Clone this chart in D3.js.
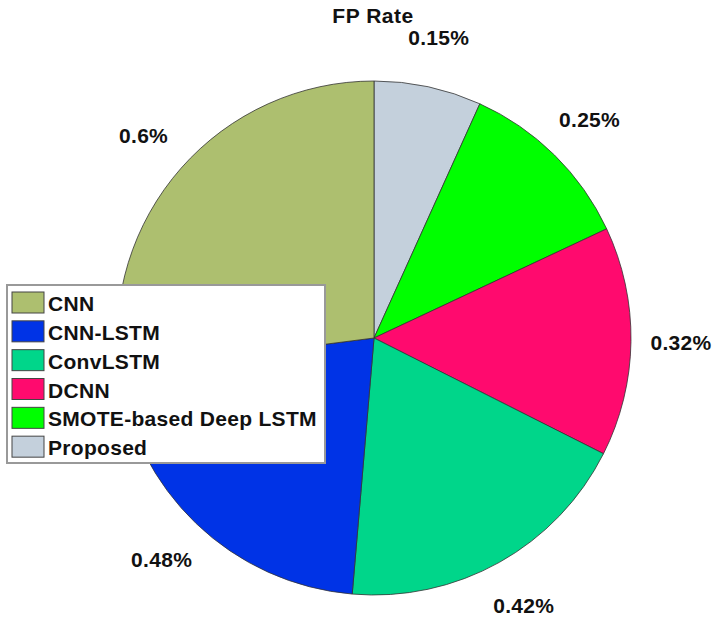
<!doctype html>
<html>
  <head>
    <script src="https://cdn.jsdelivr.net/npm/d3@7"></script>
    <style>
      body { margin: 0; background: #fff; }
      text { font-family: Arial, "Liberation Sans", sans-serif; font-weight: bold; fill: #111; }
    </style>
  </head>
  <body>
    <svg width="719" height="628"></svg>

    <script type="text/javascript">
        var models = ["CNN", "CNN-LSTM", "ConvLSTM", "DCNN", "SMOTE-based Deep LSTM", "Proposed"];
        var fpRate = [0.6, 0.48, 0.42, 0.32, 0.25, 0.15];
        var labels = ["0.6%", "0.48%", "0.42%", "0.32%", "0.25%", "0.15%"];
        var colors = ["#adbf6f", "#0033e6", "#00d68a", "#ff0a6e", "#00ff00", "#c4d0dc"];

        var svg = d3.select("svg");
        var cx = 374, cy = 338, radius = 257;

        var g = svg.append("g").attr("transform", `translate(${cx}, ${cy})`);

        // slices go clockwise from 12 o'clock: Proposed first, CNN last
        var order = d3.range(models.length).reverse();
        var pie = d3.pie()
            .sort(null)
            .value(i => fpRate[i]);

        var arc = d3.arc().innerRadius(0).outerRadius(radius);
        var labelArc = d3.arc().innerRadius(307).outerRadius(307);

        var slices = pie(order);

        g.selectAll("path")
            .data(slices)
            .enter().append("path")
            .attr("d", arc)
            .attr("fill", d => colors[d.data])
            .attr("stroke", "#333")
            .attr("stroke-width", 0.8);

        g.selectAll("text.val")
            .data(slices)
            .enter().append("text")
            .attr("class", "val")
            .attr("transform", d => `translate(${labelArc.centroid(d)})`)
            .attr("text-anchor", "middle")
            .attr("dy", "0.35em")
            .style("font-size", "21px")
            .style("letter-spacing", "0.3px")
            .text(d => labels[d.data]);

        svg.append("text")
            .attr("x", 373)
            .attr("y", 23)
            .attr("text-anchor", "middle")
            .style("font-size", "21px")
            .style("letter-spacing", "0.5px")
            .text("FP Rate");

        // legend
        var legend = svg.append("g").attr("transform", "translate(7, 285)");
        legend.append("rect")
            .attr("width", 318)
            .attr("height", 178)
            .attr("fill", "#fff")
            .attr("stroke", "#999")
            .attr("stroke-width", 2);

        var rowY = d3.scaleBand().domain(models).range([4, 177]);

        var item = legend.selectAll("g.item")
            .data(models)
            .enter().append("g")
            .attr("class", "item")
            .attr("transform", d => `translate(5, ${rowY(d)})`);

        item.append("rect")
            .attr("width", 32)
            .attr("height", 21)
            .attr("y", 3)
            .attr("fill", (d, i) => colors[i])
            .attr("stroke", "#444")
            .attr("stroke-width", 1);

        item.append("text")
            .attr("x", 36)
            .attr("y", 22)
            .style("font-size", "21px")
            .style("letter-spacing", "0.3px")
            .text(d => d);
    </script>
  </body>
</html>
